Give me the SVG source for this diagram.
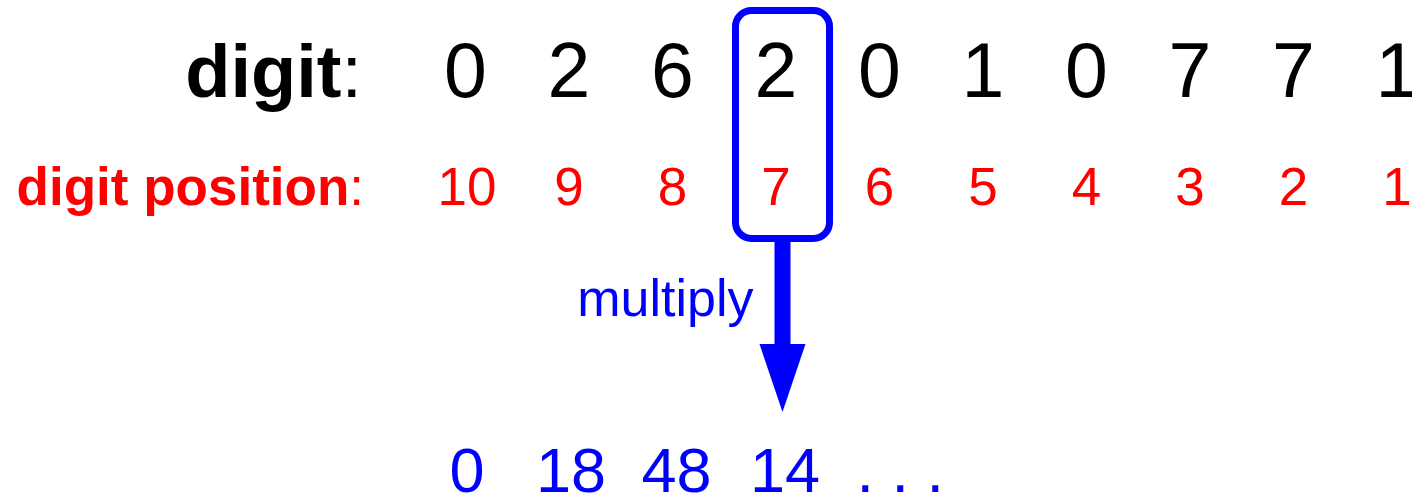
<svg xmlns="http://www.w3.org/2000/svg" width="1412" height="497" viewBox="0 0 1412 497">
  <style>
    text { font-family: "Liberation Sans", Arial, sans-serif; }
    .digit { font-size: 77px; fill: #000; text-anchor: middle; }
    .pos { font-size: 53px; fill: #ff0000; text-anchor: middle; }
    .prod { font-size: 63px; fill: #0000ff; }
    .lbl-b { font-size: 74px; fill: #000; text-anchor: end; }
    .lbl-r { font-size: 53px; fill: #ff0000; text-anchor: end; }
    .bold { font-weight: bold; }
    .hl { fill: none; stroke: #0000ff; stroke-width: 7; }
    .conn { stroke: #0000ff; stroke-width: 16; fill: none; }
  </style>
  <defs>
    <marker id="head" markerUnits="userSpaceOnUse" markerWidth="70" markerHeight="50" viewBox="0 -24 70 48" refX="0" refY="0" orient="auto">
      <path d="M0,-23 L68,0 L0,23 z" fill="#0000ff"/>
    </marker>
  </defs>
  <rect width="1412" height="497" fill="#fff"/>

  <!-- row labels -->
  <g id="label-digit">
    <text class="lbl-b" x="362" y="97"><tspan class="bold">digit</tspan>:</text>
  </g>
  <g id="label-position">
    <text class="lbl-r" x="364" y="205"><tspan class="bold">digit position</tspan>:</text>
  </g>

  <!-- digits of the number -->
  <g id="digits">
    <text class="digit" x="465.5" y="97">0</text>
    <text class="digit" x="569" y="97">2</text>
    <text class="digit" x="672.5" y="97">6</text>
    <text class="digit" x="776" y="97">2</text>
    <text class="digit" x="879.5" y="97">0</text>
    <text class="digit" x="983" y="97">1</text>
    <text class="digit" x="1086.5" y="97">0</text>
    <text class="digit" x="1190" y="97">7</text>
    <text class="digit" x="1293.5" y="97">7</text>
    <text class="digit" x="1397" y="97">1</text>
  </g>

  <!-- position index of each digit -->
  <g id="positions">
    <text class="pos" x="467" y="205">10</text>
    <text class="pos" x="569" y="205">9</text>
    <text class="pos" x="672.5" y="205">8</text>
    <text class="pos" x="776" y="205">7</text>
    <text class="pos" x="879.5" y="205">6</text>
    <text class="pos" x="983" y="205">5</text>
    <text class="pos" x="1086.5" y="205">4</text>
    <text class="pos" x="1190" y="205">3</text>
    <text class="pos" x="1293.5" y="205">2</text>
    <text class="pos" x="1397" y="205">1</text>
  </g>

  <!-- highlighted column -->
  <g id="highlight">
    <rect class="hl" x="735.5" y="10.5" width="94" height="228" rx="16"/>
  </g>

  <!-- products -->
  <g id="products">
    <text class="prod" x="449.5" y="492">0</text>
    <text class="prod" x="536" y="492">18</text>
    <text class="prod" x="641.5" y="492">48</text>
    <text class="prod" x="750" y="492">14</text>
    <text class="prod" x="856.5" y="492">. . .</text>
  </g>

  <!-- multiply arrow -->
  <g id="connectors">
    <line class="conn" x1="782.5" y1="242" x2="782.5" y2="344" marker-end="url(#head)"/>
    <text x="753.5" y="316" font-size="52" fill="#0000ff" text-anchor="end">multiply</text>
  </g>
</svg>
